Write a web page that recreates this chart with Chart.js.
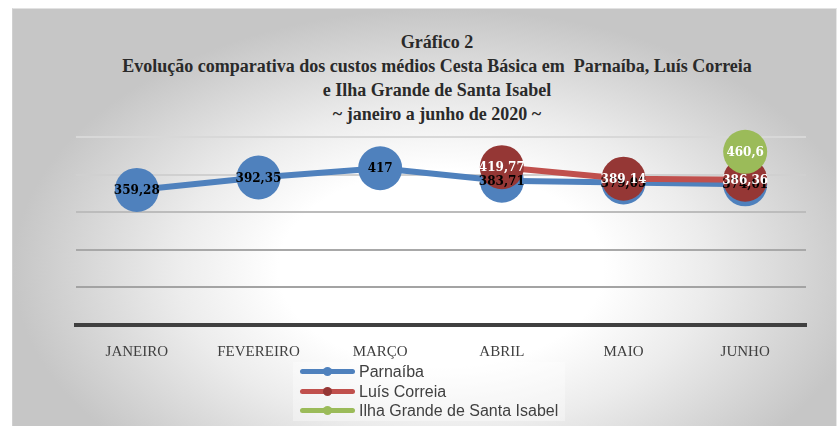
<!DOCTYPE html>
<html>
<head>
<meta charset="utf-8">
<script src="https://cdn.jsdelivr.net/npm/chart.js@4/dist/chart.umd.min.js"></script>
<style>
  html,body{margin:0;padding:0;background:#fff;}
  #wrap{position:relative;width:840px;height:426px;overflow:hidden;background:#fff;}
  #box{position:absolute;left:12px;top:8px;width:825px;height:420px;box-sizing:border-box;
       border-top:1px solid #e2e2e2;border-left:1px solid #d0d0d0;border-right:1px solid #e6e6e6;
       background:radial-gradient(ellipse farthest-side at 52% 62%, #ffffff 38%, #ececec 62%, #c6c6c6 100%);}
  #title{position:absolute;left:0;top:30px;width:874px;text-align:center;color:#2a2a2a;
         font-family:"Liberation Serif",serif;font-size:18px;font-weight:bold;line-height:24px;}
  #legend{position:absolute;left:293px;top:362px;width:272px;height:59px;background:rgba(255,255,255,0.35);}
  .lrow{position:absolute;left:7px;height:20px;display:flex;align-items:center;}
  .sw{position:relative;width:55px;height:20px;margin-right:4px;}
  .sw .ln{position:absolute;left:0;top:7px;width:55px;height:5px;border-radius:3px;}
  .sw .mk{position:absolute;left:23px;top:5px;width:9px;height:9px;border-radius:50%;}
  .lt{font-family:"Liberation Sans",sans-serif;font-size:16px;color:#404040;white-space:nowrap;}
  canvas{position:absolute;left:0;top:0;}
</style>
</head>
<body>
<div id="wrap">
  <div id="box"></div>
  <div id="title"></div>
  <canvas id="c" width="840" height="426"></canvas>
  <div id="legend"></div>
</div>
<script>
const categories = ['JANEIRO', 'FEVEREIRO', 'MARÇO', 'ABRIL', 'MAIO', 'JUNHO'];
const parnaiba = [359.28, 392.35, 417, 383.71, 379.05, 374.01];
const luisCorreia = [null, null, null, 419.77, 389.14, 386.36];
const ilhaGrande = [null, null, null, null, null, 460.6];
const seriesNames = ['Parnaíba', 'Luís Correia', 'Ilha Grande de Santa Isabel'];
const titleLines = [
  'Gráfico 2',
  'Evolução comparativa dos custos médios Cesta Básica em  Parnaíba, Luís Correia',
  'e Ilha Grande de Santa Isabel',
  '~ janeiro a junho de 2020 ~'
];
const yMin = 0, yMax = 500, yStep = 100;

const lineColors = ['#4f81bd', '#c0504d', '#9bbb59'];
const markerColors = ['#4f81bd', '#953735', '#9bbb59'];
const labelColors = ['#000000', '#ffffff', '#ffffff'];

document.getElementById('title').innerHTML = titleLines.map(t => '<div>' + t.replace(/  /g, ' &nbsp;') + '</div>').join('');

const legendEl = document.getElementById('legend');
seriesNames.forEach((name, i) => {
  const row = document.createElement('div');
  row.className = 'lrow';
  row.style.top = (0 + i * 19.5) + 'px';
  row.innerHTML = '<div class="sw"><div class="ln" style="background:' + lineColors[i] + '"></div><div class="mk" style="background:' + markerColors[i] + '"></div></div><span class="lt">' + name + '</span>';
  legendEl.appendChild(row);
});

const fmt = v => String(v).replace('.', ',');

const labelPlugin = {
  id: 'dataLabels',
  afterDatasetsDraw(chart) {
    const ctx = chart.ctx;
    ctx.save();
    ctx.font = 'bold 12px "DejaVu Serif", serif';
    ctx.textAlign = 'center';
    ctx.textBaseline = 'middle';
    chart.data.datasets.forEach((ds, di) => {
      const meta = chart.getDatasetMeta(di);
      meta.data.forEach((el, i) => {
        const v = ds.data[i];
        if (v === null || v === undefined) return;
        ctx.fillStyle = labelColors[di];
        ctx.fillText(fmt(v), el.x, el.y + 1);
      });
    });
    ctx.restore();
  }
};

const series = [parnaiba, luisCorreia, ilhaGrande];
const gridColors = {100: '#a3a3a3', 200: '#a8a8a8', 300: '#bcbcbc', 400: '#d0d0d0', 500: '#d8d8d8'};

new Chart(document.getElementById('c'), {
  type: 'line',
  data: {
    labels: categories,
    datasets: series.map((d, i) => ({
      label: seriesNames[i],
      data: d,
      borderColor: lineColors[i],
      backgroundColor: markerColors[i],
      pointBackgroundColor: markerColors[i],
      pointBorderWidth: 0,
      pointRadius: 22,
      pointHoverRadius: 22,
      borderWidth: 6,
      tension: 0,
      clip: false,
      order: 3 - i
    }))
  },
  options: {
    responsive: false,
    animation: false,
    events: [],
    layout: {padding: {left: 76, right: 34, top: 137, bottom: 61}},
    plugins: {legend: {display: false}, title: {display: false}, tooltip: {enabled: false}},
    scales: {
      x: {
        offset: true,
        grid: {display: false, offset: true},
        border: {display: true, color: '#404040', width: 4},
        ticks: {color: '#404040', font: {family: '"Liberation Serif", serif', size: 15}, padding: 10, maxRotation: 0, autoSkip: false},
        afterFit(s) { s.height = 40; }
      },
      y: {
        min: yMin, max: yMax,
        ticks: {display: false, stepSize: yStep},
        grid: {drawTicks: false, lineWidth: 2, color: c => c.tick.value === 0 ? 'rgba(0,0,0,0)' : (gridColors[c.tick.value] || '#bfbfbf')},
        border: {display: false},
        afterFit(s) { s.width = 0; }
      }
    }
  },
  plugins: [labelPlugin]
});
</script>
</body>
</html>
